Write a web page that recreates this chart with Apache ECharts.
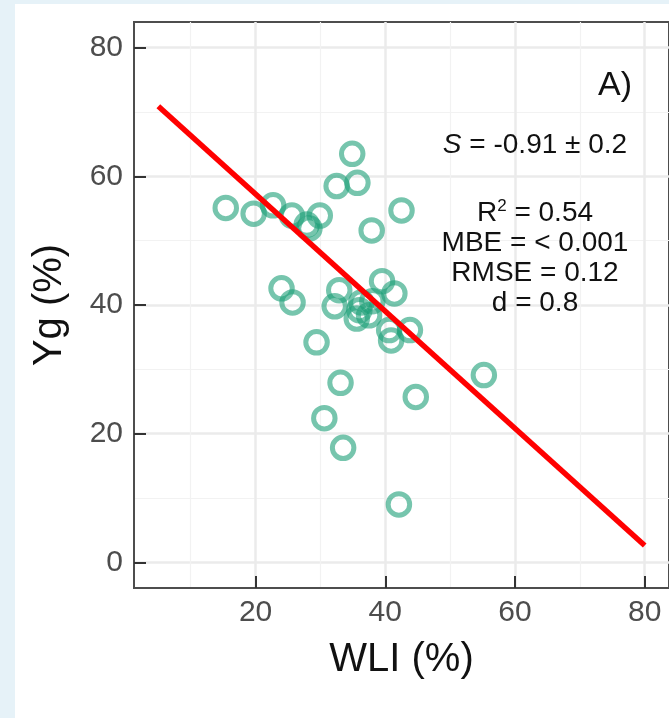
<!DOCTYPE html>
<html>
<head>
<meta charset="utf-8">
<script src="https://cdn.jsdelivr.net/npm/echarts@6/dist/echarts.min.js"></script>
<style>
  html, body { margin: 0; padding: 0; background: #e6f2f8; }
  #panel { position: absolute; left: 15px; top: 4px; width: 654px; height: 714px; background: #fff; overflow: hidden; }
  #chart { width: 654px; height: 714px; }
</style>
</head>
<body>
<div id="panel"><div id="chart"></div></div>
<script>
// WLI (%) vs Yg (%)
const wli = [15.4, 19.7, 22.7, 25.6, 27.9, 28.3, 29.9, 32.5, 34.9, 35.7, 37.9, 42.5,
  24.0, 25.7, 29.4, 32.9, 32.2, 36.0, 35.6, 37.5, 38.0, 39.5, 41.4, 40.6, 40.9, 43.8,
  33.1, 44.7, 30.6, 33.5, 42.1, 55.2, 36.3];
const yg = [55.1, 54.2, 55.5, 53.9, 52.5, 51.9, 53.9, 58.5, 63.5, 59.0, 51.6, 54.7,
  42.6, 40.4, 34.2, 42.3, 39.8, 39.2, 37.9, 38.4, 40.6, 43.7, 41.8, 36.1, 34.5, 36.1,
  27.9, 25.7, 22.4, 17.8, 9.0, 29.1, 40.4];

// fitted line end points
const fitX = [5, 80];
const fitY = [70.9, 2.6];

const xTicks = [20, 40, 60, 80];
const xMinor = [10, 30, 50, 70];
const yTicks = [0, 20, 40, 60, 80];
const yMinor = [10, 30, 50, 70];

const chart = echarts.init(document.getElementById('chart'));

const font = 'Liberation Sans, Arial, sans-serif';
const xRange = { min: 1.25, max: 83.75 };
const yRange = { min: -4, max: 84 };

chart.setOption({
  animation: false,
  textStyle: { fontFamily: font },
  grid: {
    left: 119, top: 18, width: 537, height: 566,
    show: true, borderColor: '#4d4d4d', borderWidth: 2
  },
  xAxis: [{
    type: 'value', ...xRange,
    name: 'WLI (%)', nameLocation: 'middle', nameGap: 52,
    nameTextStyle: { fontSize: 40, color: '#111' },
    axisLine: { show: true, onZero: false, lineStyle: { color: '#4d4d4d', width: 2 } },
    axisTick: { show: true, inside: true, length: 12, customValues: xTicks,
      lineStyle: { color: '#333', width: 2 } },
    axisLabel: { customValues: xTicks, fontSize: 30, color: '#4d4d4d', margin: 10 },
    splitLine: { show: true, lineStyle: { color: '#ebebeb', width: 2.5 } }
  }, {
    // minor grid only
    type: 'value', ...xRange, position: 'bottom',
    axisLine: { show: false, onZero: false },
    axisTick: { show: false, customValues: xMinor },
    axisLabel: { show: false },
    splitLine: { show: true, lineStyle: { color: '#f2f2f2', width: 1.2 } }
  }],
  yAxis: [{
    type: 'value', ...yRange,
    name: 'Yg (%)', nameLocation: 'middle', nameGap: 64,
    nameTextStyle: { fontSize: 40, color: '#111' },
    axisLine: { show: true, onZero: false, lineStyle: { color: '#4d4d4d', width: 2 } },
    axisTick: { show: true, inside: true, length: 12, customValues: yTicks,
      lineStyle: { color: '#333', width: 2 } },
    axisLabel: { customValues: yTicks, fontSize: 30, color: '#4d4d4d', margin: 11 },
    splitLine: { show: true, lineStyle: { color: '#ebebeb', width: 2.5 } }
  }, {
    type: 'value', ...yRange, position: 'left',
    axisLine: { show: false, onZero: false },
    axisTick: { show: false, customValues: yMinor },
    axisLabel: { show: false },
    splitLine: { show: true, lineStyle: { color: '#f2f2f2', width: 1.2 } }
  }],
  series: [{
    type: 'scatter',
    data: wli.map((x, i) => [x, yg[i]]),
    symbol: 'circle',
    symbolSize: 21.5,
    itemStyle: {
      color: 'rgba(0,0,0,0)',
      borderColor: 'rgba(27,158,119,0.75)',
      borderWidth: 5
    },
    z: 2
  }, {
    type: 'line',
    data: fitX.map((x, i) => [x, fitY[i]]),
    showSymbol: false,
    lineStyle: { color: '#ff0000', width: 5.5 },
    z: 3
  }],
  graphic: [
    { type: 'text', x: 617, y: 82, z: 100, style: { text: 'A)', fontSize: 34, fontFamily: font,
      fill: '#111', align: 'right', verticalAlign: 'middle' } },
    { type: 'text', x: 520, y: 141, z: 100, style: {
      text: '{it|S} = -0.91 ± 0.2', fontSize: 28, fontFamily: font, fill: '#111',
      align: 'center', verticalAlign: 'middle',
      rich: { it: { fontStyle: 'italic', fontSize: 28, fontFamily: font } } } },
    { type: 'text', x: 520, y: 254, z: 100, style: {
      text: 'R{sup|2} = 0.54\nMBE = < 0.001\nRMSE = 0.12\nd = 0.8',
      fontSize: 28, fontFamily: font, fill: '#111', lineHeight: 30,
      align: 'center', verticalAlign: 'middle',
      rich: { sup: { fontSize: 17, fontFamily: font, verticalAlign: 'top', lineHeight: 30 } } } }
  ]
});
</script>
</body>
</html>
